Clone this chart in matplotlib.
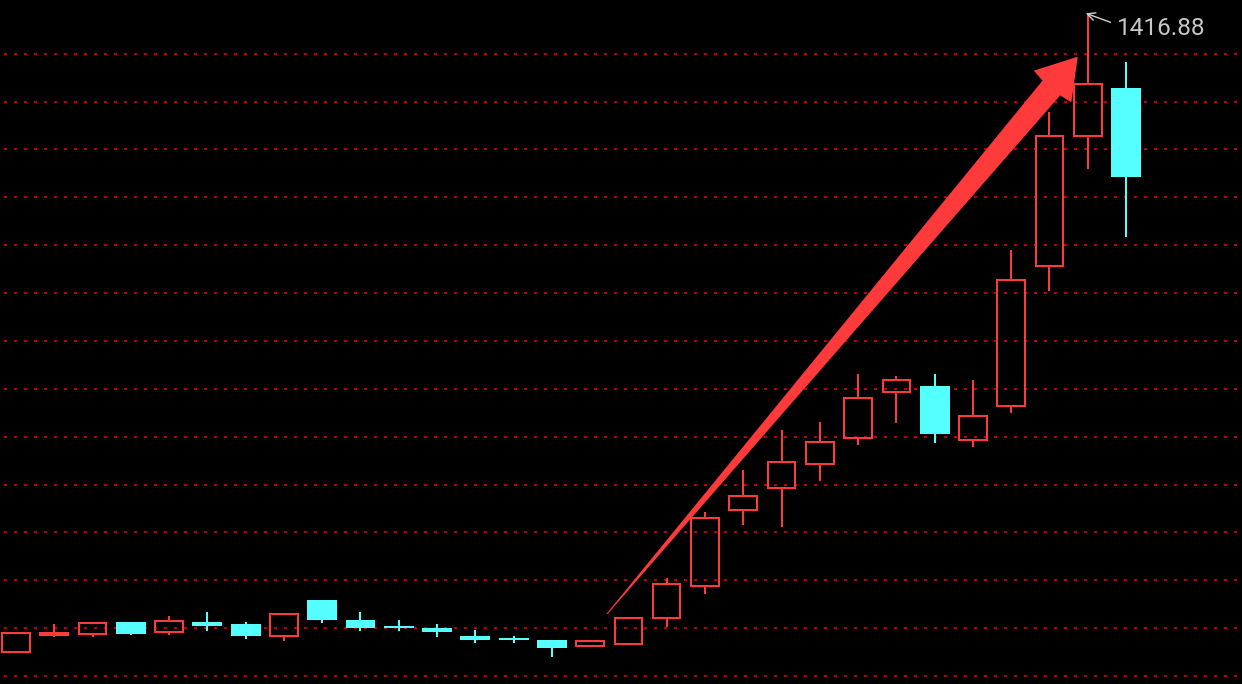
import numpy as np
import matplotlib.pyplot as plt
from matplotlib.patches import Rectangle, Polygon

# OHLC values (30 bars)
opens = [82.7, 118.8, 119.7, 145.3, 123.8, 145.3, 141.2, 115.5, 191.3, 149.5,
         137.0, 132.8, 116.1, 111.9, 107.7, 94.6, 98.7, 153.1, 220.5, 379.3,
         425.3, 475.4, 529.7, 625.8, 638.3, 524.9, 597.2, 889.0, 1160.6, 1260.2]
highs = [124.5, 141.2, 145.3, 145.8, 157.9, 166.2, 145.3, 163.0, 191.3, 166.2,
         149.5, 141.2, 128.6, 116.1, 107.7, 107.7, 154.3, 236.6, 374.5, 462.9,
         546.4, 563.1, 663.4, 659.2, 663.4, 650.9, 921.8, 1210.7, 1416.88, 1315.2]
lows = [82.7, 114.6, 114.6, 118.2, 118.8, 127.2, 110.5, 106.3, 143.9, 127.2,
        127.2, 114.6, 102.1, 102.1, 72.8, 94.6, 98.7, 135.5, 203.2, 348.6,
        344.4, 440.5, 515.7, 561.7, 519.9, 511.5, 582.6, 836.8, 1092.3, 950.2]
closes = [121.7, 122.4, 142.6, 120.3, 146.8, 137.6, 116.1, 162.7, 150.1, 133.4,
          132.8, 124.5, 107.7, 107.7, 91.7, 105.0, 154.3, 225.4, 363.2, 409.2,
          480.2, 522.0, 613.9, 650.9, 538.7, 576.3, 860.4, 1161.2, 1269.9, 1074.3]

peak_price = 1416.88
peak_index = 27.95
grid_levels = np.arange(32.5, 1400, 100)

# big trend arrow (bar index, price)
trend_start = (15.44, 162.1)
trend_end = (27.74, 1326.3)

UP = '#ff3a3a'
DOWN = '#55ffff'
GRID = '#c00000'

fig = plt.figure(figsize=(12.42, 6.84), dpi=100, facecolor='black')
ax = fig.add_axes([0, 0, 1, 1])
ax.set_facecolor('black')
ax.set_xlim(-0.418, 32.03)
ax.set_ylim(15.8, 1444.7)
ax.axis('off')

for level in grid_levels:
    ax.axhline(level, color=GRID, lw=1.44, linestyle=(3, (1.5, 3.5)), zorder=1)

for i, (o, h, l, c) in enumerate(zip(opens, highs, lows, closes)):
    up = c >= o
    col = UP if up else DOWN
    top, bot = max(o, c), min(o, c)
    if h > top:
        ax.vlines(i, top, h, color=col, lw=1.44, zorder=3)
    if l < bot:
        ax.vlines(i, l, bot, color=col, lw=1.44, zorder=3)
    if up:
        ax.add_patch(Rectangle((i - 0.36, bot), 0.72, top - bot, fill=False,
                               ec=col, lw=1.44, zorder=3))
    else:
        ax.add_patch(Rectangle((i - 0.39, bot), 0.78, top - bot, fc=col,
                               ec='none', zorder=3))

# tapered arrow built in pixel space, then mapped back to data
p0 = ax.transData.transform(trend_start)
p1 = ax.transData.transform(trend_end)
d = p1 - p0
u = d / np.hypot(*d)
n = np.array([-u[1], u[0]])
head_len, head_half, shaft_half, tail_half = 41, 24.5, 11.5, 0.5
base = p1 - u * head_len
barb = p1 - u * 39
verts = [p0 + n * tail_half, base + n * shaft_half, barb + n * head_half, p1,
         barb - n * head_half, base - n * shaft_half, p0 - n * tail_half]
verts = ax.transData.inverted().transform(np.array(verts))
ax.add_patch(Polygon(verts, closed=True, fc=UP, ec='none', zorder=5))

# peak label
ax.annotate('', xy=(peak_index, peak_price), xytext=(24.7, -9),
            textcoords='offset pixels',
            arrowprops=dict(arrowstyle='->', color='#d0d0d0', lw=1,
                            shrinkA=0, shrinkB=0, mutation_scale=14))
ax.annotate(f'{peak_price:.2f}', xy=(peak_index, peak_price), xytext=(31, -22),
            textcoords='offset pixels', ha='left', va='baseline',
            fontsize=17.5, color='#c8c8c8', family='Roboto')

fig.savefig('out.png', dpi=100, facecolor='black')
